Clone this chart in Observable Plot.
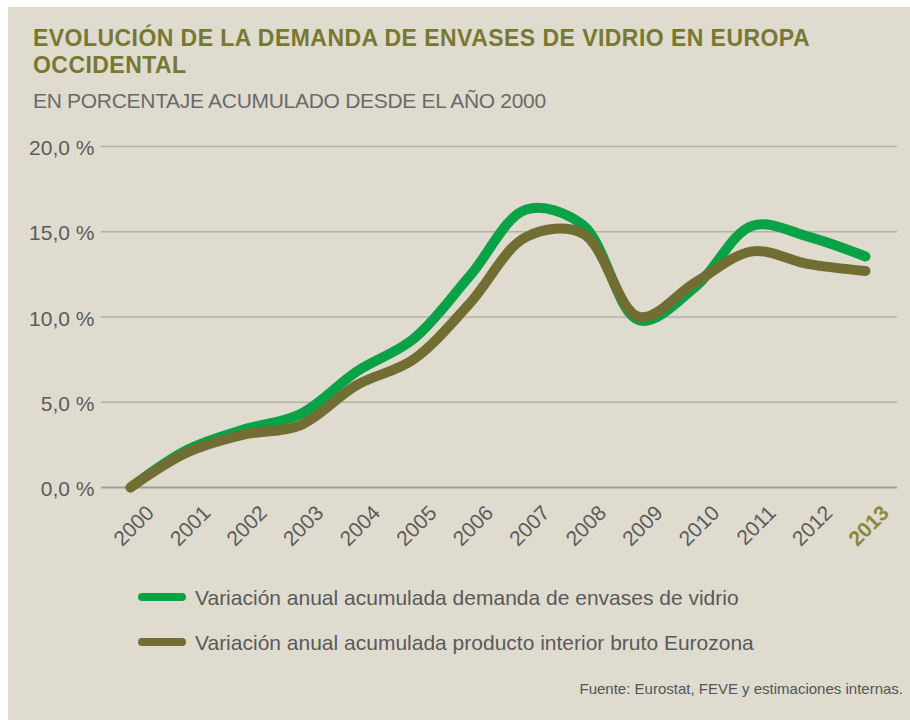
<!DOCTYPE html>
<html>
<head>
<meta charset="utf-8">
<script src="https://cdn.jsdelivr.net/npm/d3@7"></script>
<script src="https://cdn.jsdelivr.net/npm/@observablehq/plot@0.6"></script>
<style>
  html, body { margin: 0; padding: 0; }
  body { width: 910px; height: 720px; overflow: hidden; position: relative; background: #ffffff; font-family: "Liberation Sans", Arial, sans-serif; }
  #panel { position: absolute; left: 8px; top: 7px; right: 0; bottom: 0; background: #dfdbcf; }
  .abs { position: absolute; white-space: nowrap; }
  .title { left: 33px; font-family: "Liberation Sans", Arial, sans-serif; font-weight: bold; font-size: 23px; line-height: 26px; letter-spacing: 0.45px; color: #787831; }
  #subtitle { left: 33px; top: 90px; font-size: 21px; line-height: 22px; letter-spacing: -0.3px; color: #6a6a6a; }
  #chart { left: 0; top: 130px; }
  .leg { left: 138px; height: 8px; width: 48px; border-radius: 4px; }
  .legtxt { left: 195px; font-size: 21px; line-height: 21px; color: #5a5a5a; }
  #source { right: 7px; top: 681px; font-size: 15px; line-height: 15px; color: #555555; }
</style>
</head>
<body>
<div id="panel"></div>
<div id="title1" class="abs title" style="top:25px;">EVOLUCIÓN DE LA DEMANDA DE ENVASES DE VIDRIO EN EUROPA</div>
<div id="title2" class="abs title" style="top:52px;">OCCIDENTAL</div>
<div id="subtitle" class="abs">EN PORCENTAJE ACUMULADO DESDE EL AÑO 2000</div>
<div id="chart" class="abs"></div>
<div id="leg1" class="abs leg" style="top:593px;"></div>
<div id="legtxt1" class="abs legtxt" style="top:587px;"></div>
<div id="leg2" class="abs leg" style="top:638px;"></div>
<div id="legtxt2" class="abs legtxt" style="top:632px;"></div>
<div id="source" class="abs">Fuente: Eurostat, FEVE y estimaciones internas.</div>
<script>
// ---- Data ----
const years = [2000, 2001, 2002, 2003, 2004, 2005, 2006, 2007, 2008, 2009, 2010, 2011, 2012, 2013];
const glassDemand = [0.0, 2.2, 3.4, 4.3, 6.8, 8.7, 12.4, 16.3, 15.4, 9.8, 11.8, 15.35, 14.7, 13.55];
const gdpEurozone = [0.0, 2.05, 3.1, 3.65, 6.0, 7.5, 10.8, 14.7, 14.9, 10.0, 12.05, 13.85, 13.1, 12.7];
const yTicks = [0, 5, 10, 15, 20];
const highlightYear = 2013;
const seriesNames = [
  "Variación anual acumulada demanda de envases de vidrio",
  "Variación anual acumulada producto interior bruto Eurozona"
];
const seriesColors = ["#0aa247", "#726e33"];

const glassRows = years.map((y, i) => ({year: y, value: glassDemand[i]}));
const gdpRows = years.map((y, i) => ({year: y, value: gdpEurozone[i]}));

const chart = Plot.plot({
  width: 910,
  height: 430,
  marginTop: 16,
  marginBottom: 73,
  marginLeft: 101,
  marginRight: 13,
  style: {background: "transparent", fontFamily: "'Liberation Sans', Arial, sans-serif", overflow: "visible"},
  x: {domain: [2000, 2013], insetLeft: 29, insetRight: 32},
  y: {domain: [0, 20]},
  marks: [
    Plot.ruleY(yTicks.filter(d => d !== 0), {stroke: "#b4b0a5", strokeWidth: 1.5}),
    Plot.ruleY([0], {stroke: "#a29e94", strokeWidth: 2}),
    Plot.axisY({ticks: yTicks, tickSize: 0, tickPadding: 7, dy: 2, fontSize: 21, fill: "#5c5c5c",
      tickFormat: d => d.toFixed(1).replace(".", ",") + " %", label: null}),
    Plot.axisX({ticks: years.filter(y => y !== highlightYear), tickRotate: -45, tickSize: 0, tickPadding: 8,
      dx: 20, dy: 14, fontSize: 21, fill: "#5c5c5c", tickFormat: d => String(d), label: null}),
    Plot.axisX({ticks: [highlightYear], tickRotate: -45, tickSize: 0, tickPadding: 8,
      dx: 20, dy: 14, fontSize: 21, fontWeight: "bold", fill: "#8a883d", tickFormat: d => String(d), label: null}),
    Plot.line(glassRows, {x: "year", y: "value", stroke: seriesColors[0], strokeWidth: 10,
      curve: "catmull-rom", strokeLinecap: "round", strokeLinejoin: "round"}),
    Plot.line(gdpRows, {x: "year", y: "value", stroke: seriesColors[1], strokeWidth: 10,
      curve: "catmull-rom", strokeLinecap: "round", strokeLinejoin: "round"})
  ]
});
document.getElementById("chart").appendChild(chart);

document.getElementById("leg1").style.background = seriesColors[0];
document.getElementById("leg2").style.background = seriesColors[1];
document.getElementById("legtxt1").textContent = seriesNames[0];
document.getElementById("legtxt2").textContent = seriesNames[1];
</script>
</body>
</html>
